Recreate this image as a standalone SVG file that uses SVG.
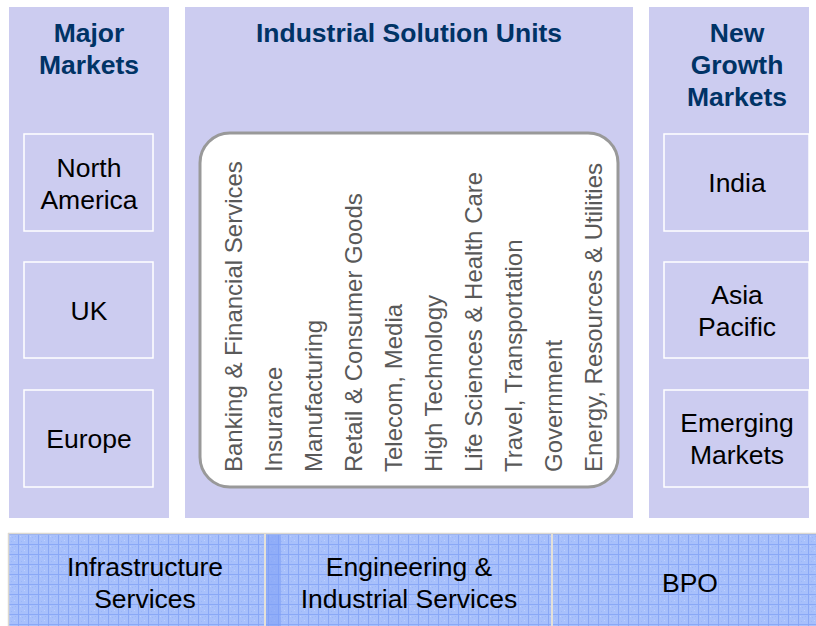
<svg xmlns="http://www.w3.org/2000/svg" width="816" height="626" viewBox="0 0 816 626">
<defs>
<style>
.col{fill:#CCCCF0}
.box{fill:#CCCCF0;stroke:#FFFFFF;stroke-width:1.5}
.hdr{font-family:"Liberation Sans",Arial,sans-serif;font-weight:bold;font-size:26.5px;fill:#003366;text-anchor:middle}
.lbl{font-family:"Liberation Sans",Arial,sans-serif;font-size:26.5px;fill:#000000;text-anchor:middle}
.ind{font-family:"Liberation Sans",Arial,sans-serif;font-size:24px;fill:#595959}
</style>
<pattern id="grid" x="8" y="534" width="10" height="10" patternUnits="userSpaceOnUse">
<rect width="10" height="10" fill="#A8C0FB"/>
<rect x="2" y="2" width="1" height="1" fill="#BCD0FF"/>
<rect x="6" y="6" width="1" height="1" fill="#BCD0FF"/>
<rect x="4" y="3" width="1" height="1" fill="#9BB6F8"/>
<rect x="7" y="2" width="1" height="1" fill="#9BB6F8"/>
<rect x="3" y="7" width="1" height="1" fill="#9BB6F8"/>
<rect x="0" y="0" width="10" height="1" fill="#8AA8F6"/>
<rect x="0" y="0" width="1" height="10" fill="#8AA8F6"/>
</pattern>
</defs>
<rect width="816" height="626" fill="#FFFFFF"/>

<g id="major-markets">
<rect class="col" x="9" y="7" width="160" height="511"/>
<text class="hdr" x="89" y="42">Major</text>
<text class="hdr" x="89" y="74">Markets</text>
</g>
<g id="north-america">
<rect class="box" x="24" y="134" width="129" height="97"/>
<text class="lbl" x="89" y="177">North</text>
<text class="lbl" x="89" y="209">America</text>
</g>
<g id="uk">
<rect class="box" x="24" y="262" width="129" height="96"/>
<text class="lbl" x="89" y="320">UK</text>
</g>
<g id="europe">
<rect class="box" x="24" y="390" width="129" height="97"/>
<text class="lbl" x="89" y="448">Europe</text>
</g>

<g id="industrial-solution-units">
<rect class="col" x="185" y="7" width="448" height="511"/>
<text class="hdr" x="409" y="42">Industrial Solution Units</text>
<rect x="200" y="133" width="418" height="354" rx="30" ry="30" fill="#FFFFFF" stroke="#999999" stroke-width="3"/>
<text class="ind" transform="translate(242,472) rotate(-90)">Banking &amp; Financial Services</text>
<text class="ind" transform="translate(282,472) rotate(-90)">Insurance</text>
<text class="ind" transform="translate(322,472) rotate(-90)">Manufacturing</text>
<text class="ind" transform="translate(362,472) rotate(-90)">Retail &amp; Consumer Goods</text>
<text class="ind" transform="translate(402,472) rotate(-90)">Telecom, Media</text>
<text class="ind" transform="translate(442,472) rotate(-90)">High Technology</text>
<text class="ind" transform="translate(482,472) rotate(-90)">Life Sciences &amp; Health Care</text>
<text class="ind" transform="translate(522,472) rotate(-90)">Travel, Transportation</text>
<text class="ind" transform="translate(562,472) rotate(-90)">Government</text>
<text class="ind" transform="translate(602,472) rotate(-90)">Energy, Resources &amp; Utilities</text>
</g>

<g id="new-growth-markets">
<rect class="col" x="649" y="7" width="160" height="511"/>
<text class="hdr" x="737" y="42">New</text>
<text class="hdr" x="737" y="74">Growth</text>
<text class="hdr" x="737" y="106">Markets</text>
</g>
<g id="india">
<rect class="box" x="664" y="134" width="145" height="97"/>
<text class="lbl" x="737" y="192">India</text>
</g>
<g id="asia-pacific">
<rect class="box" x="664" y="262" width="145" height="96"/>
<text class="lbl" x="737" y="304">Asia</text>
<text class="lbl" x="737" y="336">Pacific</text>
</g>
<g id="emerging-markets">
<rect class="box" x="664" y="390" width="145" height="97"/>
<text class="lbl" x="737" y="432">Emerging</text>
<text class="lbl" x="737" y="464">Markets</text>
</g>

<g id="service-band">
<rect x="8" y="534" width="808" height="92" fill="url(#grid)"/>
<rect x="266" y="535" width="15" height="91" fill="#7C9CF6" opacity="0.55"/>
<line x1="8" y1="533.5" x2="816" y2="533.5" stroke="#DCD8D0" stroke-width="1.5"/>
<line x1="8.5" y1="533" x2="8.5" y2="626" stroke="#DCD8D0" stroke-width="1.5"/>
<line x1="265" y1="534" x2="265" y2="626" stroke="#E4E0D8" stroke-width="2"/>
<line x1="552" y1="534" x2="552" y2="626" stroke="#E4E0D8" stroke-width="2"/>
</g>
<g id="infrastructure-services">
<text class="lbl" x="145" y="576">Infrastructure</text>
<text class="lbl" x="145" y="608">Services</text>
</g>
<g id="engineering-industrial-services">
<text class="lbl" x="409" y="576">Engineering &amp;</text>
<text class="lbl" x="409" y="608">Industrial Services</text>
</g>
<g id="bpo">
<text class="lbl" x="690" y="592">BPO</text>
</g>
</svg>
